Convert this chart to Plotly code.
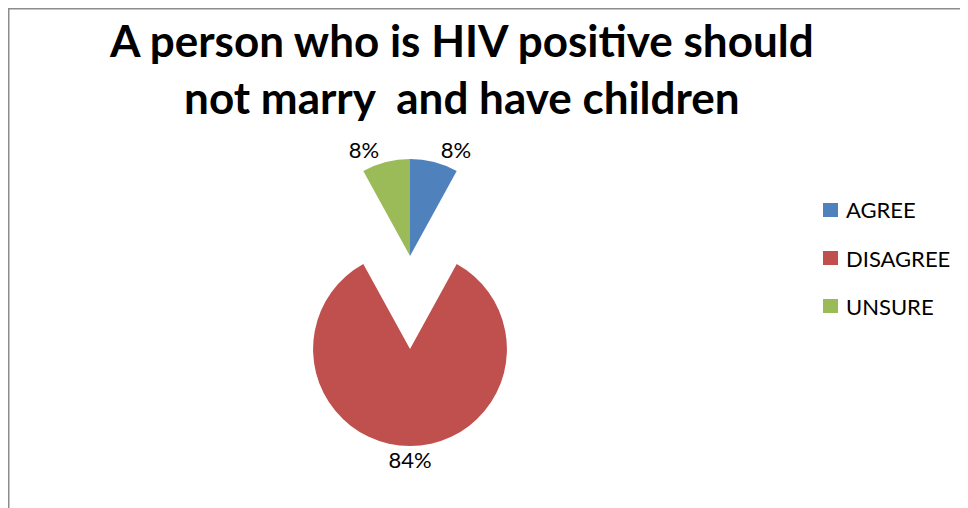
import plotly.graph_objects as go

labels = ["AGREE", "DISAGREE", "UNSURE"]
values = [8, 84, 8]
colors = ["#4F81BD", "#C0504D", "#9BBB59"]
pulls = [0, 0.96, 0]
title_lines = ["A person who is HIV positive should", "not marry\u00a0 and have children"]

W, H = 968, 508
OFF = 8  # page margin around the figure


def px(x):
    return (x - OFF) / W


def py(y):
    return 1 - (y - OFF) / H


total = sum(values)
big = values.index(max(values))
# the pulled-out big slice gets its percentage centred below it (pie title);
# the small slices keep Plotly's outside labels
texttemplates = ["" if i == big else "%{percent:.0%}" for i in range(len(values))]
big_label = f"{values[big] / total:.0%}"

fig = go.Figure()
fig.add_trace(go.Pie(
    labels=labels,
    values=values,
    sort=False,
    direction="clockwise",
    rotation=0,
    pull=pulls,
    marker=dict(colors=colors, line=dict(width=0)),
    texttemplate=texttemplates,
    textposition="outside",
    textfont=dict(family="Lato", size=22, color="#000000"),
    title=dict(text=big_label, position="bottom center",
               font=dict(family="Lato", size=22, color="#000000")),
    showlegend=False,
    automargin=False,
    domain=dict(x=[px(220), px(600)], y=[py(474), py(65)]),
    hoverinfo="label+percent",
))

annotations = [dict(
    text="<b>" + "<br>".join(title_lines) + "</b>",
    x=px(461), y=py(12), xref="paper", yref="paper",
    xanchor="center", yanchor="top", showarrow=False,
    font=dict(family="Lato", size=44, color="#000000"),
)]
shapes = [dict(type="rect", xref="paper", yref="paper",
               x0=0.75 / W, x1=1, y0=0, y1=1 - 0.75 / H,
               line=dict(color="#8C8C8C", width=1.5), fillcolor="rgba(0,0,0,0)")]

leg_x, leg_y0, leg_dy = 823, 210, 48
for i, (lab, col) in enumerate(zip(labels, colors)):
    yc = leg_y0 + i * leg_dy
    shapes.append(dict(type="rect", xref="paper", yref="paper",
                       x0=px(leg_x), x1=px(leg_x + 15),
                       y0=py(yc + 7), y1=py(yc - 7),
                       line=dict(width=0), fillcolor=col))
    annotations.append(dict(
        text=lab, x=px(leg_x + 21), y=py(yc), xref="paper", yref="paper",
        xanchor="left", yanchor="middle", showarrow=False,
        font=dict(family="Lato", size=22, color="#000000"),
    ))

fig.update_layout(
    width=W, height=H,
    margin=dict(l=0, r=0, t=0, b=0, autoexpand=False),
    showlegend=False,
    paper_bgcolor="#FFFFFF",
    plot_bgcolor="#FFFFFF",
    annotations=annotations,
    shapes=shapes,
)

fig.write_html("out.html")
